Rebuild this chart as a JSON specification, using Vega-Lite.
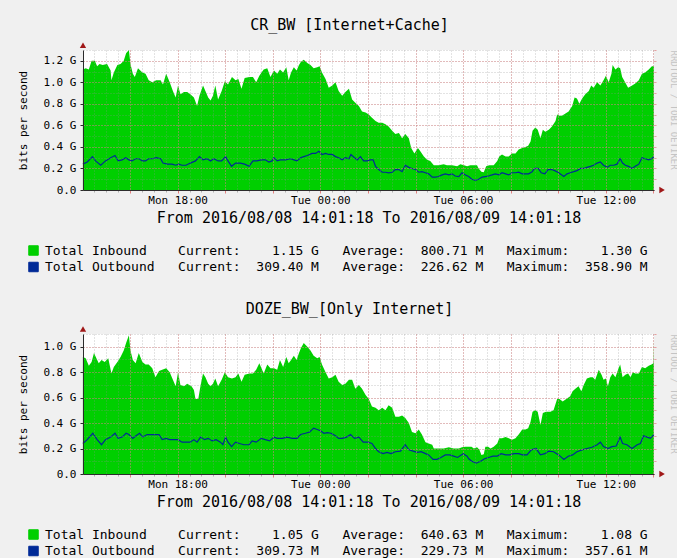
{
  "$schema": "https://vega.github.io/schema/vega-lite/v6.json",
  "background": "#f0f0f0",
  "padding": {"left": 17, "top": 18, "right": 0, "bottom": 0},
  "autosize": {"type": "pad"},
  "spacing": 28,
  "config": {
    "view": {"stroke": null, "fill": "#ffffff"},
    "font": "DejaVu Sans Mono",
    "title": {"font": "DejaVu Sans Mono", "fontSize": 15, "fontWeight": "normal", "color": "#000000", "frame": "group", "anchor": "middle", "dx": -19, "offset": 9}
  },
  "resolve": {"scale": {"x": "independent", "y": "independent", "color": "independent"}, "legend": {"color": "independent"}},
  "datasets": {
    "cr_in": [
      {"t":"2016-08-08T14:01Z","v":1.12},{"t":"2016-08-08T14:08Z","v":1.13},{"t":"2016-08-08T14:16Z","v":1.12},{"t":"2016-08-08T14:23Z","v":1.20},{"t":"2016-08-08T14:31Z","v":1.20},{"t":"2016-08-08T14:37Z","v":1.15},{"t":"2016-08-08T14:43Z","v":1.17},{"t":"2016-08-08T14:51Z","v":1.16},{"t":"2016-08-08T15:02Z","v":1.17},{"t":"2016-08-08T15:11Z","v":1.11},{"t":"2016-08-08T15:13Z","v":1.02},{"t":"2016-08-08T15:19Z","v":1.09},{"t":"2016-08-08T15:28Z","v":1.16},{"t":"2016-08-08T15:36Z","v":1.17},{"t":"2016-08-08T15:44Z","v":1.20},{"t":"2016-08-08T15:50Z","v":1.27},{"t":"2016-08-08T15:57Z","v":1.30},{"t":"2016-08-08T16:01Z","v":1.17},{"t":"2016-08-08T16:07Z","v":1.08},{"t":"2016-08-08T16:12Z","v":1.05},{"t":"2016-08-08T16:20Z","v":1.13},{"t":"2016-08-08T16:31Z","v":1.09},{"t":"2016-08-08T16:39Z","v":1.08},{"t":"2016-08-08T16:47Z","v":1.02},{"t":"2016-08-08T16:56Z","v":1.00},{"t":"2016-08-08T17:06Z","v":1.02},{"t":"2016-08-08T17:17Z","v":1.02},{"t":"2016-08-08T17:23Z","v":0.98},{"t":"2016-08-08T17:31Z","v":1.08},{"t":"2016-08-08T17:40Z","v":1.00},{"t":"2016-08-08T17:48Z","v":0.92},{"t":"2016-08-08T17:55Z","v":0.86},{"t":"2016-08-08T18:01Z","v":0.97},{"t":"2016-08-08T18:07Z","v":0.89},{"t":"2016-08-08T18:16Z","v":0.91},{"t":"2016-08-08T18:24Z","v":0.91},{"t":"2016-08-08T18:32Z","v":0.89},{"t":"2016-08-08T18:41Z","v":0.86},{"t":"2016-08-08T18:49Z","v":0.78},{"t":"2016-08-08T18:55Z","v":0.875},{"t":"2016-08-08T19:04Z","v":0.97},{"t":"2016-08-08T19:10Z","v":0.92},{"t":"2016-08-08T19:17Z","v":0.86},{"t":"2016-08-08T19:23Z","v":0.83},{"t":"2016-08-08T19:29Z","v":0.875},{"t":"2016-08-08T19:35Z","v":0.97},{"t":"2016-08-08T19:42Z","v":0.84},{"t":"2016-08-08T19:51Z","v":0.92},{"t":"2016-08-08T19:59Z","v":1.01},{"t":"2016-08-08T20:07Z","v":0.98},{"t":"2016-08-08T20:17Z","v":1.05},{"t":"2016-08-08T20:26Z","v":1.02},{"t":"2016-08-08T20:33Z","v":1.03},{"t":"2016-08-08T20:41Z","v":0.94},{"t":"2016-08-08T20:49Z","v":1.04},{"t":"2016-08-08T21:01Z","v":1.05},{"t":"2016-08-08T21:10Z","v":1.05},{"t":"2016-08-08T21:18Z","v":1.00},{"t":"2016-08-08T21:26Z","v":1.06},{"t":"2016-08-08T21:37Z","v":1.12},{"t":"2016-08-08T21:46Z","v":1.13},{"t":"2016-08-08T21:54Z","v":1.05},{"t":"2016-08-08T22:03Z","v":1.11},{"t":"2016-08-08T22:11Z","v":1.08},{"t":"2016-08-08T22:18Z","v":1.12},{"t":"2016-08-08T22:26Z","v":1.09},{"t":"2016-08-08T22:34Z","v":1.14},{"t":"2016-08-08T22:40Z","v":1.02},{"t":"2016-08-08T22:46Z","v":1.09},{"t":"2016-08-08T22:53Z","v":1.14},{"t":"2016-08-08T23:00Z","v":1.11},{"t":"2016-08-08T23:06Z","v":1.16},{"t":"2016-08-08T23:11Z","v":1.19},{"t":"2016-08-08T23:18Z","v":1.21},{"t":"2016-08-08T23:27Z","v":1.18},{"t":"2016-08-08T23:35Z","v":1.16},{"t":"2016-08-08T23:43Z","v":1.13},{"t":"2016-08-08T23:52Z","v":1.14},{"t":"2016-08-08T23:58Z","v":1.15},
      {"t":"2016-08-09T00:04Z","v":1.09},{"t":"2016-08-09T00:13Z","v":1.03},{"t":"2016-08-09T00:21Z","v":0.95},{"t":"2016-08-09T00:30Z","v":0.97},{"t":"2016-08-09T00:38Z","v":1.00},{"t":"2016-08-09T00:46Z","v":0.92},{"t":"2016-08-09T00:55Z","v":0.875},{"t":"2016-08-09T01:03Z","v":0.91},{"t":"2016-08-09T01:12Z","v":0.94},{"t":"2016-08-09T01:20Z","v":0.84},{"t":"2016-08-09T01:28Z","v":0.81},{"t":"2016-08-09T01:37Z","v":0.78},{"t":"2016-08-09T01:45Z","v":0.73},{"t":"2016-08-09T01:54Z","v":0.72},{"t":"2016-08-09T02:02Z","v":0.70},{"t":"2016-08-09T02:10Z","v":0.67},{"t":"2016-08-09T02:19Z","v":0.64},{"t":"2016-08-09T02:27Z","v":0.625},{"t":"2016-08-09T02:36Z","v":0.625},{"t":"2016-08-09T02:44Z","v":0.61},{"t":"2016-08-09T02:52Z","v":0.59},{"t":"2016-08-09T03:01Z","v":0.55},{"t":"2016-08-09T03:09Z","v":0.52},{"t":"2016-08-09T03:18Z","v":0.53},{"t":"2016-08-09T03:26Z","v":0.48},{"t":"2016-08-09T03:34Z","v":0.52},{"t":"2016-08-09T03:43Z","v":0.48},{"t":"2016-08-09T03:49Z","v":0.39},{"t":"2016-08-09T03:57Z","v":0.34},{"t":"2016-08-09T04:06Z","v":0.39},{"t":"2016-08-09T04:12Z","v":0.36},{"t":"2016-08-09T04:21Z","v":0.31},{"t":"2016-08-09T04:29Z","v":0.28},{"t":"2016-08-09T04:37Z","v":0.27},{"t":"2016-08-09T04:46Z","v":0.23},{"t":"2016-08-09T04:58Z","v":0.23},{"t":"2016-08-09T05:11Z","v":0.24},{"t":"2016-08-09T05:19Z","v":0.23},{"t":"2016-08-09T05:32Z","v":0.23},{"t":"2016-08-09T05:45Z","v":0.22},{"t":"2016-08-09T05:53Z","v":0.24},{"t":"2016-08-09T06:02Z","v":0.23},{"t":"2016-08-09T06:10Z","v":0.22},{"t":"2016-08-09T06:18Z","v":0.23},{"t":"2016-08-09T06:27Z","v":0.23},{"t":"2016-08-09T06:35Z","v":0.23},{"t":"2016-08-09T06:39Z","v":0.20},{"t":"2016-08-09T06:46Z","v":0.17},{"t":"2016-08-09T06:52Z","v":0.165},{"t":"2016-08-09T06:58Z","v":0.22},{"t":"2016-08-09T07:06Z","v":0.23},{"t":"2016-08-09T07:17Z","v":0.23},{"t":"2016-08-09T07:26Z","v":0.27},{"t":"2016-08-09T07:31Z","v":0.31},{"t":"2016-08-09T07:38Z","v":0.33},{"t":"2016-08-09T07:47Z","v":0.31},{"t":"2016-08-09T07:55Z","v":0.31},{"t":"2016-08-09T08:03Z","v":0.34},{"t":"2016-08-09T08:12Z","v":0.34},{"t":"2016-08-09T08:20Z","v":0.375},{"t":"2016-08-09T08:29Z","v":0.39},{"t":"2016-08-09T08:37Z","v":0.40},{"t":"2016-08-09T08:44Z","v":0.41},{"t":"2016-08-09T08:50Z","v":0.45},{"t":"2016-08-09T08:55Z","v":0.55},{"t":"2016-08-09T09:02Z","v":0.58},{"t":"2016-08-09T09:08Z","v":0.56},{"t":"2016-08-09T09:15Z","v":0.48},{"t":"2016-08-09T09:21Z","v":0.56},{"t":"2016-08-09T09:27Z","v":0.54},{"t":"2016-08-09T09:36Z","v":0.56},{"t":"2016-08-09T09:44Z","v":0.59},{"t":"2016-08-09T09:53Z","v":0.64},{"t":"2016-08-09T09:57Z","v":0.70},{"t":"2016-08-09T10:03Z","v":0.69},{"t":"2016-08-09T10:09Z","v":0.69},{"t":"2016-08-09T10:18Z","v":0.71},{"t":"2016-08-09T10:26Z","v":0.73},{"t":"2016-08-09T10:35Z","v":0.78},{"t":"2016-08-09T10:41Z","v":0.86},{"t":"2016-08-09T10:47Z","v":0.85},{"t":"2016-08-09T10:53Z","v":0.80},{"t":"2016-08-09T11:00Z","v":0.85},{"t":"2016-08-09T11:08Z","v":0.89},{"t":"2016-08-09T11:17Z","v":0.92},{"t":"2016-08-09T11:23Z","v":0.97},{"t":"2016-08-09T11:29Z","v":0.95},{"t":"2016-08-09T11:38Z","v":1.00},{"t":"2016-08-09T11:46Z","v":0.97},{"t":"2016-08-09T11:54Z","v":1.02},{"t":"2016-08-09T12:00Z","v":1.06},{"t":"2016-08-09T12:07Z","v":1.00},{"t":"2016-08-09T12:14Z","v":1.08},{"t":"2016-08-09T12:17Z","v":1.16},{"t":"2016-08-09T12:24Z","v":1.12},{"t":"2016-08-09T12:31Z","v":1.14},{"t":"2016-08-09T12:36Z","v":1.13},{"t":"2016-08-09T12:41Z","v":1.05},{"t":"2016-08-09T12:47Z","v":1.01},{"t":"2016-08-09T12:56Z","v":0.95},{"t":"2016-08-09T13:06Z","v":0.97},{"t":"2016-08-09T13:14Z","v":0.99},{"t":"2016-08-09T13:23Z","v":1.02},{"t":"2016-08-09T13:31Z","v":1.08},{"t":"2016-08-09T13:39Z","v":1.09},{"t":"2016-08-09T13:48Z","v":1.12},{"t":"2016-08-09T13:56Z","v":1.15},{"t":"2016-08-09T14:01Z","v":1.15}
    ],
    "cr_out": [
      {"t":"2016-08-08T14:01Z","v":0.24},{"t":"2016-08-08T14:12Z","v":0.26},{"t":"2016-08-08T14:25Z","v":0.31},{"t":"2016-08-08T14:33Z","v":0.27},{"t":"2016-08-08T14:46Z","v":0.23},{"t":"2016-08-08T14:58Z","v":0.27},{"t":"2016-08-08T15:11Z","v":0.30},{"t":"2016-08-08T15:22Z","v":0.32},{"t":"2016-08-08T15:30Z","v":0.27},{"t":"2016-08-08T15:40Z","v":0.28},{"t":"2016-08-08T15:49Z","v":0.30},{"t":"2016-08-08T15:57Z","v":0.28},{"t":"2016-08-08T16:05Z","v":0.27},{"t":"2016-08-08T16:14Z","v":0.29},{"t":"2016-08-08T16:22Z","v":0.29},{"t":"2016-08-08T16:31Z","v":0.27},{"t":"2016-08-08T16:39Z","v":0.27},{"t":"2016-08-08T16:47Z","v":0.29},{"t":"2016-08-08T16:57Z","v":0.29},{"t":"2016-08-08T17:06Z","v":0.30},{"t":"2016-08-08T17:17Z","v":0.29},{"t":"2016-08-08T17:23Z","v":0.25},{"t":"2016-08-08T17:34Z","v":0.24},{"t":"2016-08-08T17:46Z","v":0.24},{"t":"2016-08-08T17:55Z","v":0.23},{"t":"2016-08-08T18:03Z","v":0.24},{"t":"2016-08-08T18:11Z","v":0.23},{"t":"2016-08-08T18:21Z","v":0.23},{"t":"2016-08-08T18:32Z","v":0.25},{"t":"2016-08-08T18:45Z","v":0.27},{"t":"2016-08-08T18:55Z","v":0.31},{"t":"2016-08-08T19:04Z","v":0.28},{"t":"2016-08-08T19:14Z","v":0.29},{"t":"2016-08-08T19:23Z","v":0.27},{"t":"2016-08-08T19:31Z","v":0.29},{"t":"2016-08-08T19:42Z","v":0.27},{"t":"2016-08-08T19:51Z","v":0.27},{"t":"2016-08-08T20:01Z","v":0.31},{"t":"2016-08-08T20:07Z","v":0.27},{"t":"2016-08-08T20:16Z","v":0.22},{"t":"2016-08-08T20:26Z","v":0.25},{"t":"2016-08-08T20:38Z","v":0.25},{"t":"2016-08-08T20:49Z","v":0.24},{"t":"2016-08-08T21:00Z","v":0.22},{"t":"2016-08-08T21:10Z","v":0.27},{"t":"2016-08-08T21:20Z","v":0.27},{"t":"2016-08-08T21:31Z","v":0.28},{"t":"2016-08-08T21:41Z","v":0.28},{"t":"2016-08-08T21:50Z","v":0.26},{"t":"2016-08-08T21:58Z","v":0.27},{"t":"2016-08-08T22:03Z","v":0.30},{"t":"2016-08-08T22:11Z","v":0.27},{"t":"2016-08-08T22:19Z","v":0.28},{"t":"2016-08-08T22:32Z","v":0.28},{"t":"2016-08-08T22:45Z","v":0.29},{"t":"2016-08-08T22:53Z","v":0.28},{"t":"2016-08-08T23:01Z","v":0.27},{"t":"2016-08-08T23:10Z","v":0.30},{"t":"2016-08-08T23:18Z","v":0.31},{"t":"2016-08-08T23:27Z","v":0.32},{"t":"2016-08-08T23:39Z","v":0.34},{"t":"2016-08-08T23:48Z","v":0.34},{"t":"2016-08-08T23:56Z","v":0.36},
      {"t":"2016-08-09T00:04Z","v":0.33},{"t":"2016-08-09T00:13Z","v":0.34},{"t":"2016-08-09T00:21Z","v":0.33},{"t":"2016-08-09T00:30Z","v":0.33},{"t":"2016-08-09T00:38Z","v":0.31},{"t":"2016-08-09T00:46Z","v":0.30},{"t":"2016-08-09T00:55Z","v":0.28},{"t":"2016-08-09T01:03Z","v":0.30},{"t":"2016-08-09T01:12Z","v":0.29},{"t":"2016-08-09T01:17Z","v":0.33},{"t":"2016-08-09T01:26Z","v":0.30},{"t":"2016-08-09T01:33Z","v":0.28},{"t":"2016-08-09T01:41Z","v":0.31},{"t":"2016-08-09T01:49Z","v":0.27},{"t":"2016-08-09T01:58Z","v":0.27},{"t":"2016-08-09T02:06Z","v":0.28},{"t":"2016-08-09T02:13Z","v":0.28},{"t":"2016-08-09T02:19Z","v":0.22},{"t":"2016-08-09T02:27Z","v":0.19},{"t":"2016-08-09T02:36Z","v":0.165},{"t":"2016-08-09T02:44Z","v":0.165},{"t":"2016-08-09T02:52Z","v":0.16},{"t":"2016-08-09T03:01Z","v":0.165},{"t":"2016-08-09T03:09Z","v":0.19},{"t":"2016-08-09T03:18Z","v":0.19},{"t":"2016-08-09T03:26Z","v":0.17},{"t":"2016-08-09T03:34Z","v":0.23},{"t":"2016-08-09T03:43Z","v":0.21},{"t":"2016-08-09T03:51Z","v":0.20},{"t":"2016-08-09T04:00Z","v":0.19},{"t":"2016-08-09T04:08Z","v":0.165},{"t":"2016-08-09T04:16Z","v":0.17},{"t":"2016-08-09T04:25Z","v":0.16},{"t":"2016-08-09T04:33Z","v":0.15},{"t":"2016-08-09T04:42Z","v":0.12},{"t":"2016-08-09T04:50Z","v":0.12},{"t":"2016-08-09T04:58Z","v":0.125},{"t":"2016-08-09T05:07Z","v":0.14},{"t":"2016-08-09T05:15Z","v":0.15},{"t":"2016-08-09T05:24Z","v":0.14},{"t":"2016-08-09T05:32Z","v":0.15},{"t":"2016-08-09T05:40Z","v":0.13},{"t":"2016-08-09T05:49Z","v":0.125},{"t":"2016-08-09T05:57Z","v":0.16},{"t":"2016-08-09T06:06Z","v":0.14},{"t":"2016-08-09T06:14Z","v":0.125},{"t":"2016-08-09T06:22Z","v":0.10},{"t":"2016-08-09T06:31Z","v":0.09},{"t":"2016-08-09T06:39Z","v":0.10},{"t":"2016-08-09T06:48Z","v":0.12},{"t":"2016-08-09T06:56Z","v":0.125},{"t":"2016-08-09T07:04Z","v":0.13},{"t":"2016-08-09T07:13Z","v":0.14},{"t":"2016-08-09T07:21Z","v":0.15},{"t":"2016-08-09T07:30Z","v":0.14},{"t":"2016-08-09T07:38Z","v":0.16},{"t":"2016-08-09T07:47Z","v":0.15},{"t":"2016-08-09T07:55Z","v":0.14},{"t":"2016-08-09T08:03Z","v":0.16},{"t":"2016-08-09T08:12Z","v":0.16},{"t":"2016-08-09T08:20Z","v":0.165},{"t":"2016-08-09T08:29Z","v":0.15},{"t":"2016-08-09T08:37Z","v":0.15},{"t":"2016-08-09T08:45Z","v":0.15},{"t":"2016-08-09T08:54Z","v":0.17},{"t":"2016-08-09T09:00Z","v":0.20},{"t":"2016-08-09T09:09Z","v":0.20},{"t":"2016-08-09T09:17Z","v":0.16},{"t":"2016-08-09T09:26Z","v":0.15},{"t":"2016-08-09T09:34Z","v":0.19},{"t":"2016-08-09T09:43Z","v":0.19},{"t":"2016-08-09T09:51Z","v":0.18},{"t":"2016-08-09T10:01Z","v":0.16},{"t":"2016-08-09T10:14Z","v":0.125},{"t":"2016-08-09T10:22Z","v":0.15},{"t":"2016-08-09T10:30Z","v":0.16},{"t":"2016-08-09T10:39Z","v":0.17},{"t":"2016-08-09T10:47Z","v":0.18},{"t":"2016-08-09T10:56Z","v":0.20},{"t":"2016-08-09T11:04Z","v":0.20},{"t":"2016-08-09T11:12Z","v":0.21},{"t":"2016-08-09T11:21Z","v":0.22},{"t":"2016-08-09T11:29Z","v":0.23},{"t":"2016-08-09T11:38Z","v":0.25},{"t":"2016-08-09T11:46Z","v":0.26},{"t":"2016-08-09T11:54Z","v":0.23},{"t":"2016-08-09T12:03Z","v":0.21},{"t":"2016-08-09T12:11Z","v":0.23},{"t":"2016-08-09T12:20Z","v":0.23},{"t":"2016-08-09T12:28Z","v":0.24},{"t":"2016-08-09T12:36Z","v":0.29},{"t":"2016-08-09T12:42Z","v":0.25},{"t":"2016-08-09T12:49Z","v":0.23},{"t":"2016-08-09T12:57Z","v":0.22},{"t":"2016-08-09T13:06Z","v":0.20},{"t":"2016-08-09T13:14Z","v":0.22},{"t":"2016-08-09T13:23Z","v":0.24},{"t":"2016-08-09T13:31Z","v":0.30},{"t":"2016-08-09T13:39Z","v":0.29},{"t":"2016-08-09T13:48Z","v":0.28},{"t":"2016-08-09T13:55Z","v":0.29},{"t":"2016-08-09T14:01Z","v":0.31}
    ],
    "doze_in": [
      {"t":"2016-08-08T14:01Z","v":0.92},{"t":"2016-08-08T14:08Z","v":0.91},{"t":"2016-08-08T14:16Z","v":0.85},{"t":"2016-08-08T14:23Z","v":0.88},{"t":"2016-08-08T14:29Z","v":0.95},{"t":"2016-08-08T14:35Z","v":0.91},{"t":"2016-08-08T14:41Z","v":0.87},{"t":"2016-08-08T14:48Z","v":0.895},{"t":"2016-08-08T14:56Z","v":0.88},{"t":"2016-08-08T15:05Z","v":0.91},{"t":"2016-08-08T15:13Z","v":0.79},{"t":"2016-08-08T15:19Z","v":0.84},{"t":"2016-08-08T15:28Z","v":0.88},{"t":"2016-08-08T15:36Z","v":0.92},{"t":"2016-08-08T15:44Z","v":0.97},{"t":"2016-08-08T15:50Z","v":1.03},{"t":"2016-08-08T15:57Z","v":1.09},{"t":"2016-08-08T16:01Z","v":0.97},{"t":"2016-08-08T16:07Z","v":0.895},{"t":"2016-08-08T16:14Z","v":0.87},{"t":"2016-08-08T16:22Z","v":0.95},{"t":"2016-08-08T16:31Z","v":0.88},{"t":"2016-08-08T16:39Z","v":0.86},{"t":"2016-08-08T16:47Z","v":0.86},{"t":"2016-08-08T16:56Z","v":0.83},{"t":"2016-08-08T17:04Z","v":0.76},{"t":"2016-08-08T17:13Z","v":0.81},{"t":"2016-08-08T17:21Z","v":0.82},{"t":"2016-08-08T17:31Z","v":0.83},{"t":"2016-08-08T17:40Z","v":0.80},{"t":"2016-08-08T17:48Z","v":0.74},{"t":"2016-08-08T17:55Z","v":0.69},{"t":"2016-08-08T18:01Z","v":0.80},{"t":"2016-08-08T18:07Z","v":0.70},{"t":"2016-08-08T18:16Z","v":0.69},{"t":"2016-08-08T18:24Z","v":0.71},{"t":"2016-08-08T18:35Z","v":0.69},{"t":"2016-08-08T18:41Z","v":0.66},{"t":"2016-08-08T18:45Z","v":0.59},{"t":"2016-08-08T18:52Z","v":0.59},{"t":"2016-08-08T18:58Z","v":0.70},{"t":"2016-08-08T19:04Z","v":0.79},{"t":"2016-08-08T19:10Z","v":0.76},{"t":"2016-08-08T19:17Z","v":0.71},{"t":"2016-08-08T19:23Z","v":0.69},{"t":"2016-08-08T19:29Z","v":0.71},{"t":"2016-08-08T19:35Z","v":0.75},{"t":"2016-08-08T19:42Z","v":0.69},{"t":"2016-08-08T19:51Z","v":0.74},{"t":"2016-08-08T19:59Z","v":0.80},{"t":"2016-08-08T20:07Z","v":0.76},{"t":"2016-08-08T20:17Z","v":0.75},{"t":"2016-08-08T20:26Z","v":0.76},{"t":"2016-08-08T20:33Z","v":0.79},{"t":"2016-08-08T20:41Z","v":0.725},{"t":"2016-08-08T20:49Z","v":0.78},{"t":"2016-08-08T21:01Z","v":0.79},{"t":"2016-08-08T21:10Z","v":0.79},{"t":"2016-08-08T21:18Z","v":0.82},{"t":"2016-08-08T21:26Z","v":0.87},{"t":"2016-08-08T21:37Z","v":0.79},{"t":"2016-08-08T21:46Z","v":0.86},{"t":"2016-08-08T21:54Z","v":0.83},{"t":"2016-08-08T22:03Z","v":0.83},{"t":"2016-08-08T22:11Z","v":0.82},{"t":"2016-08-08T22:18Z","v":0.895},{"t":"2016-08-08T22:26Z","v":0.84},{"t":"2016-08-08T22:34Z","v":0.92},{"t":"2016-08-08T22:40Z","v":0.87},{"t":"2016-08-08T22:46Z","v":0.895},{"t":"2016-08-08T22:53Z","v":0.93},{"t":"2016-08-08T23:00Z","v":0.895},{"t":"2016-08-08T23:06Z","v":0.95},{"t":"2016-08-08T23:11Z","v":0.99},{"t":"2016-08-08T23:18Z","v":1.03},{"t":"2016-08-08T23:27Z","v":1.00},{"t":"2016-08-08T23:35Z","v":0.97},{"t":"2016-08-08T23:43Z","v":0.93},{"t":"2016-08-08T23:52Z","v":0.91},{"t":"2016-08-08T23:58Z","v":0.92},
      {"t":"2016-08-09T00:04Z","v":0.86},{"t":"2016-08-09T00:13Z","v":0.80},{"t":"2016-08-09T00:21Z","v":0.75},{"t":"2016-08-09T00:30Z","v":0.76},{"t":"2016-08-09T00:38Z","v":0.78},{"t":"2016-08-09T00:46Z","v":0.725},{"t":"2016-08-09T00:55Z","v":0.70},{"t":"2016-08-09T01:03Z","v":0.71},{"t":"2016-08-09T01:12Z","v":0.74},{"t":"2016-08-09T01:20Z","v":0.74},{"t":"2016-08-09T01:28Z","v":0.67},{"t":"2016-08-09T01:37Z","v":0.70},{"t":"2016-08-09T01:45Z","v":0.67},{"t":"2016-08-09T01:54Z","v":0.62},{"t":"2016-08-09T02:02Z","v":0.59},{"t":"2016-08-09T02:10Z","v":0.53},{"t":"2016-08-09T02:19Z","v":0.52},{"t":"2016-08-09T02:27Z","v":0.50},{"t":"2016-08-09T02:36Z","v":0.52},{"t":"2016-08-09T02:44Z","v":0.50},{"t":"2016-08-09T02:52Z","v":0.54},{"t":"2016-08-09T03:01Z","v":0.52},{"t":"2016-08-09T03:09Z","v":0.45},{"t":"2016-08-09T03:18Z","v":0.45},{"t":"2016-08-09T03:26Z","v":0.46},{"t":"2016-08-09T03:34Z","v":0.44},{"t":"2016-08-09T03:43Z","v":0.40},{"t":"2016-08-09T03:51Z","v":0.33},{"t":"2016-08-09T04:00Z","v":0.32},{"t":"2016-08-09T04:08Z","v":0.35},{"t":"2016-08-09T04:16Z","v":0.31},{"t":"2016-08-09T04:25Z","v":0.25},{"t":"2016-08-09T04:33Z","v":0.24},{"t":"2016-08-09T04:42Z","v":0.23},{"t":"2016-08-09T04:46Z","v":0.20},{"t":"2016-08-09T04:58Z","v":0.20},{"t":"2016-08-09T05:11Z","v":0.20},{"t":"2016-08-09T05:24Z","v":0.21},{"t":"2016-08-09T05:36Z","v":0.20},{"t":"2016-08-09T05:49Z","v":0.20},{"t":"2016-08-09T05:57Z","v":0.21},{"t":"2016-08-09T06:06Z","v":0.215},{"t":"2016-08-09T06:14Z","v":0.215},{"t":"2016-08-09T06:21Z","v":0.215},{"t":"2016-08-09T06:27Z","v":0.20},{"t":"2016-08-09T06:35Z","v":0.21},{"t":"2016-08-09T06:41Z","v":0.19},{"t":"2016-08-09T06:46Z","v":0.15},{"t":"2016-08-09T06:52Z","v":0.155},{"t":"2016-08-09T06:56Z","v":0.215},{"t":"2016-08-09T07:03Z","v":0.215},{"t":"2016-08-09T07:09Z","v":0.20},{"t":"2016-08-09T07:17Z","v":0.215},{"t":"2016-08-09T07:26Z","v":0.24},{"t":"2016-08-09T07:31Z","v":0.28},{"t":"2016-08-09T07:38Z","v":0.28},{"t":"2016-08-09T07:47Z","v":0.29},{"t":"2016-08-09T07:55Z","v":0.28},{"t":"2016-08-09T08:03Z","v":0.27},{"t":"2016-08-09T08:12Z","v":0.28},{"t":"2016-08-09T08:20Z","v":0.31},{"t":"2016-08-09T08:29Z","v":0.35},{"t":"2016-08-09T08:37Z","v":0.35},{"t":"2016-08-09T08:44Z","v":0.36},{"t":"2016-08-09T08:50Z","v":0.41},{"t":"2016-08-09T08:55Z","v":0.49},{"t":"2016-08-09T09:02Z","v":0.50},{"t":"2016-08-09T09:08Z","v":0.49},{"t":"2016-08-09T09:15Z","v":0.385},{"t":"2016-08-09T09:21Z","v":0.48},{"t":"2016-08-09T09:29Z","v":0.49},{"t":"2016-08-09T09:40Z","v":0.49},{"t":"2016-08-09T09:48Z","v":0.50},{"t":"2016-08-09T09:57Z","v":0.59},{"t":"2016-08-09T10:03Z","v":0.59},{"t":"2016-08-09T10:11Z","v":0.57},{"t":"2016-08-09T10:20Z","v":0.59},{"t":"2016-08-09T10:30Z","v":0.61},{"t":"2016-08-09T10:36Z","v":0.65},{"t":"2016-08-09T10:43Z","v":0.67},{"t":"2016-08-09T10:51Z","v":0.69},{"t":"2016-08-09T10:58Z","v":0.65},{"t":"2016-08-09T11:04Z","v":0.70},{"t":"2016-08-09T11:12Z","v":0.75},{"t":"2016-08-09T11:21Z","v":0.76},{"t":"2016-08-09T11:27Z","v":0.76},{"t":"2016-08-09T11:33Z","v":0.74},{"t":"2016-08-09T11:42Z","v":0.82},{"t":"2016-08-09T11:49Z","v":0.78},{"t":"2016-08-09T11:54Z","v":0.74},{"t":"2016-08-09T12:00Z","v":0.75},{"t":"2016-08-09T12:05Z","v":0.69},{"t":"2016-08-09T12:11Z","v":0.76},{"t":"2016-08-09T12:17Z","v":0.79},{"t":"2016-08-09T12:24Z","v":0.76},{"t":"2016-08-09T12:32Z","v":0.83},{"t":"2016-08-09T12:36Z","v":0.86},{"t":"2016-08-09T12:42Z","v":0.76},{"t":"2016-08-09T12:49Z","v":0.78},{"t":"2016-08-09T12:56Z","v":0.79},{"t":"2016-08-09T13:02Z","v":0.76},{"t":"2016-08-09T13:08Z","v":0.80},{"t":"2016-08-09T13:14Z","v":0.79},{"t":"2016-08-09T13:23Z","v":0.79},{"t":"2016-08-09T13:31Z","v":0.84},{"t":"2016-08-09T13:39Z","v":0.83},{"t":"2016-08-09T13:48Z","v":0.85},{"t":"2016-08-09T13:55Z","v":0.86},{"t":"2016-08-09T14:00Z","v":0.87},{"t":"2016-08-09T14:01Z","v":1.05}
    ],
    "doze_out": [
      {"t":"2016-08-08T14:01Z","v":0.24},{"t":"2016-08-08T14:12Z","v":0.27},{"t":"2016-08-08T14:26Z","v":0.32},{"t":"2016-08-08T14:37Z","v":0.27},{"t":"2016-08-08T14:48Z","v":0.23},{"t":"2016-08-08T14:58Z","v":0.27},{"t":"2016-08-08T15:11Z","v":0.29},{"t":"2016-08-08T15:22Z","v":0.32},{"t":"2016-08-08T15:30Z","v":0.28},{"t":"2016-08-08T15:40Z","v":0.29},{"t":"2016-08-08T15:50Z","v":0.32},{"t":"2016-08-08T15:57Z","v":0.31},{"t":"2016-08-08T16:07Z","v":0.28},{"t":"2016-08-08T16:15Z","v":0.30},{"t":"2016-08-08T16:24Z","v":0.32},{"t":"2016-08-08T16:32Z","v":0.29},{"t":"2016-08-08T16:43Z","v":0.31},{"t":"2016-08-08T16:52Z","v":0.31},{"t":"2016-08-08T17:02Z","v":0.31},{"t":"2016-08-08T17:13Z","v":0.31},{"t":"2016-08-08T17:21Z","v":0.27},{"t":"2016-08-08T17:31Z","v":0.28},{"t":"2016-08-08T17:40Z","v":0.27},{"t":"2016-08-08T17:50Z","v":0.27},{"t":"2016-08-08T18:01Z","v":0.27},{"t":"2016-08-08T18:11Z","v":0.25},{"t":"2016-08-08T18:21Z","v":0.25},{"t":"2016-08-08T18:32Z","v":0.25},{"t":"2016-08-08T18:41Z","v":0.27},{"t":"2016-08-08T18:49Z","v":0.25},{"t":"2016-08-08T18:58Z","v":0.29},{"t":"2016-08-08T19:08Z","v":0.27},{"t":"2016-08-08T19:17Z","v":0.28},{"t":"2016-08-08T19:27Z","v":0.26},{"t":"2016-08-08T19:37Z","v":0.27},{"t":"2016-08-08T19:48Z","v":0.25},{"t":"2016-08-08T19:54Z","v":0.23},{"t":"2016-08-08T20:01Z","v":0.29},{"t":"2016-08-08T20:07Z","v":0.25},{"t":"2016-08-08T20:16Z","v":0.215},{"t":"2016-08-08T20:26Z","v":0.25},{"t":"2016-08-08T20:36Z","v":0.24},{"t":"2016-08-08T20:47Z","v":0.23},{"t":"2016-08-08T21:00Z","v":0.23},{"t":"2016-08-08T21:08Z","v":0.26},{"t":"2016-08-08T21:18Z","v":0.25},{"t":"2016-08-08T21:31Z","v":0.28},{"t":"2016-08-08T21:41Z","v":0.27},{"t":"2016-08-08T21:52Z","v":0.26},{"t":"2016-08-08T22:03Z","v":0.29},{"t":"2016-08-08T22:11Z","v":0.28},{"t":"2016-08-08T22:24Z","v":0.28},{"t":"2016-08-08T22:36Z","v":0.29},{"t":"2016-08-08T22:49Z","v":0.28},{"t":"2016-08-08T23:01Z","v":0.28},{"t":"2016-08-08T23:10Z","v":0.31},{"t":"2016-08-08T23:22Z","v":0.32},{"t":"2016-08-08T23:33Z","v":0.33},{"t":"2016-08-08T23:43Z","v":0.36},{"t":"2016-08-08T23:52Z","v":0.35},
      {"t":"2016-08-09T00:00Z","v":0.34},{"t":"2016-08-09T00:09Z","v":0.32},{"t":"2016-08-09T00:17Z","v":0.325},{"t":"2016-08-09T00:27Z","v":0.32},{"t":"2016-08-09T00:38Z","v":0.30},{"t":"2016-08-09T00:46Z","v":0.28},{"t":"2016-08-09T00:55Z","v":0.28},{"t":"2016-08-09T01:06Z","v":0.29},{"t":"2016-08-09T01:16Z","v":0.31},{"t":"2016-08-09T01:26Z","v":0.28},{"t":"2016-08-09T01:37Z","v":0.29},{"t":"2016-08-09T01:48Z","v":0.25},{"t":"2016-08-09T02:00Z","v":0.25},{"t":"2016-08-09T02:10Z","v":0.24},{"t":"2016-08-09T02:19Z","v":0.20},{"t":"2016-08-09T02:27Z","v":0.175},{"t":"2016-08-09T02:38Z","v":0.16},{"t":"2016-08-09T02:48Z","v":0.17},{"t":"2016-08-09T02:58Z","v":0.16},{"t":"2016-08-09T03:09Z","v":0.175},{"t":"2016-08-09T03:22Z","v":0.18},{"t":"2016-08-09T03:34Z","v":0.23},{"t":"2016-08-09T03:43Z","v":0.19},{"t":"2016-08-09T03:54Z","v":0.18},{"t":"2016-08-09T04:04Z","v":0.17},{"t":"2016-08-09T04:14Z","v":0.175},{"t":"2016-08-09T04:25Z","v":0.16},{"t":"2016-08-09T04:33Z","v":0.15},{"t":"2016-08-09T04:44Z","v":0.115},{"t":"2016-08-09T04:54Z","v":0.115},{"t":"2016-08-09T05:04Z","v":0.13},{"t":"2016-08-09T05:15Z","v":0.15},{"t":"2016-08-09T05:26Z","v":0.15},{"t":"2016-08-09T05:36Z","v":0.14},{"t":"2016-08-09T05:46Z","v":0.13},{"t":"2016-08-09T06:00Z","v":0.16},{"t":"2016-08-09T06:10Z","v":0.14},{"t":"2016-08-09T06:14Z","v":0.12},{"t":"2016-08-09T06:22Z","v":0.10},{"t":"2016-08-09T06:33Z","v":0.085},{"t":"2016-08-09T06:44Z","v":0.10},{"t":"2016-08-09T06:54Z","v":0.12},{"t":"2016-08-09T07:04Z","v":0.13},{"t":"2016-08-09T07:15Z","v":0.14},{"t":"2016-08-09T07:26Z","v":0.14},{"t":"2016-08-09T07:36Z","v":0.16},{"t":"2016-08-09T07:47Z","v":0.15},{"t":"2016-08-09T07:57Z","v":0.15},{"t":"2016-08-09T08:08Z","v":0.16},{"t":"2016-08-09T08:20Z","v":0.16},{"t":"2016-08-09T08:30Z","v":0.15},{"t":"2016-08-09T08:41Z","v":0.15},{"t":"2016-08-09T08:52Z","v":0.19},{"t":"2016-08-09T09:04Z","v":0.20},{"t":"2016-08-09T09:15Z","v":0.15},{"t":"2016-08-09T09:26Z","v":0.16},{"t":"2016-08-09T09:36Z","v":0.18},{"t":"2016-08-09T09:48Z","v":0.175},{"t":"2016-08-09T10:01Z","v":0.15},{"t":"2016-08-09T10:14Z","v":0.115},{"t":"2016-08-09T10:25Z","v":0.14},{"t":"2016-08-09T10:36Z","v":0.15},{"t":"2016-08-09T10:47Z","v":0.175},{"t":"2016-08-09T11:00Z","v":0.19},{"t":"2016-08-09T11:12Z","v":0.20},{"t":"2016-08-09T11:25Z","v":0.21},{"t":"2016-08-09T11:38Z","v":0.23},{"t":"2016-08-09T11:46Z","v":0.25},{"t":"2016-08-09T11:54Z","v":0.215},{"t":"2016-08-09T12:05Z","v":0.20},{"t":"2016-08-09T12:15Z","v":0.215},{"t":"2016-08-09T12:26Z","v":0.22},{"t":"2016-08-09T12:36Z","v":0.29},{"t":"2016-08-09T12:42Z","v":0.24},{"t":"2016-08-09T12:53Z","v":0.23},{"t":"2016-08-09T13:06Z","v":0.20},{"t":"2016-08-09T13:19Z","v":0.23},{"t":"2016-08-09T13:27Z","v":0.24},{"t":"2016-08-09T13:35Z","v":0.30},{"t":"2016-08-09T13:44Z","v":0.29},{"t":"2016-08-09T13:52Z","v":0.28},{"t":"2016-08-09T14:01Z","v":0.31}
    ]
  },
  "vconcat": [
    {
      "width": 571,
      "height": 140,
      "title": {"text": "CR_BW [Internet+Cache]"},
      "resolve": {"axis": {"x": "independent", "y": "independent"}},
      "layer": [
        {
          "data": {"name": "cr_in"},
          "mark": {"type": "area", "opacity": 1},
          "encoding": {
            "x": {"field": "t", "type": "temporal",
              "scale": {"type": "utc", "domain": [1470664878000, 1470751278000]},
              "axis": {"orient": "bottom", "values": [1470666600000,1470668400000,1470670200000,1470672000000,1470673800000,1470675600000,1470677400000,1470679200000,1470681000000,1470682800000,1470684600000,1470686400000,1470688200000,1470690000000,1470691800000,1470693600000,1470695400000,1470697200000,1470699000000,1470700800000,1470702600000,1470704400000,1470706200000,1470708000000,1470709800000,1470711600000,1470713400000,1470715200000,1470717000000,1470718800000,1470720600000,1470722400000,1470724200000,1470726000000,1470727800000,1470729600000,1470731400000,1470733200000,1470735000000,1470736800000,1470738600000,1470740400000,1470742200000,1470744000000,1470745800000,1470747600000,1470749400000,1470751200000], "grid": true, "gridColor": "#8f8f8f", "gridOpacity": 0.5, "gridDash": [1, 2], "labels": false, "ticks": true, "tickColor": "#b0b0b0", "tickSize": 2, "domain": false, "title": null, "zindex": 1}},
            "y": {"field": "v", "type": "quantitative",
              "scale": {"domain": [0, 1.3], "nice": false, "zero": true},
              "axis": {"orient": "right", "values": [0.1, 0.2, 0.3, 0.4, 0.5, 0.6, 0.7, 0.8, 0.9, 1.0, 1.1, 1.2, 1.3], "grid": true, "gridColor": "#8f8f8f", "gridOpacity": 0.5, "gridDash": [1, 2], "labels": false, "ticks": true, "tickColor": "#e8a0a0", "tickSize": 2, "domain": false, "title": "RRDTOOL / TOBI OETIKER", "titleColor": "#c4c4c4", "titleFont": "DejaVu Sans Mono", "titleFontSize": 9, "titleFontWeight": "normal", "titleAngle": 90, "titleX": 19, "titleY": 0, "titleAlign": "left", "titleBaseline": "middle", "zindex": 1}},
            "color": {"datum": "Total Inbound",
              "scale": {"domain": ["Total Inbound", "Total Outbound"], "range": ["#00CF00", "#002A97"]},
              "legend": {"orient": "none", "legendX": -56, "legendY": 194, "direction": "vertical", "title": null, "symbolType": "square", "symbolSize": 90, "symbolStrokeColor": "#000000", "symbolStrokeWidth": 1, "symbolOpacity": 1, "labelFont": "DejaVu Sans Mono", "labelFontSize": 13, "labelColor": "#000000", "labelLimit": 0, "labelOffset": 5, "rowPadding": 1.5, "padding": 0,
                "labelExpr": "datum.label == 'Total Inbound' ? 'Total Inbound\u00a0\u00a0\u00a0\u00a0Current:\u00a0\u00a0\u00a0\u00a01.15 G\u00a0\u00a0\u00a0Average:\u00a0\u00a0800.71 M\u00a0\u00a0\u00a0Maximum:\u00a0\u00a0\u00a0\u00a01.30 G' : 'Total Outbound\u00a0\u00a0\u00a0Current:\u00a0\u00a0309.40 M\u00a0\u00a0\u00a0Average:\u00a0\u00a0226.62 M\u00a0\u00a0\u00a0Maximum:\u00a0\u00a0358.90 M'"}}
          }
        },
        {
          "data": {"name": "cr_out"},
          "mark": {"type": "line", "strokeWidth": 1.2},
          "encoding": {
            "x": {"field": "t", "type": "temporal",
              "axis": {"orient": "bottom", "values": [1470672000000,1470679200000,1470686400000,1470693600000,1470700800000,1470708000000,1470715200000,1470722400000,1470729600000,1470736800000,1470744000000,1470751200000], "grid": true, "gridColor": "#e28080", "gridOpacity": 0.8, "gridDash": [1, 2], "labelExpr": "utchours(datum.value) % 6 == 0 ? utcFormat(datum.value, '%a %H:%M') : ''", "labelOverlap": false, "labelFont": "DejaVu Sans Mono", "labelFontSize": 11, "labelColor": "#000000", "labelPadding": 1, "tickColor": "#e28080", "tickSize": 3, "domain": true, "domainColor": "#2c2c2c", "title": "From 2016/08/08 14:01:18 To 2016/08/09 14:01:18", "titleFont": "DejaVu Sans Mono", "titleFontSize": 15, "titleFontWeight": "normal", "titleColor": "#000000", "titlePadding": 5, "zindex": 1}},
            "y": {"field": "v", "type": "quantitative",
              "axis": {"orient": "left", "values": [0, 0.2, 0.4, 0.6, 0.8, 1.0, 1.2], "grid": true, "gridColor": "#e28080", "gridOpacity": 0.8, "gridDash": [1, 2], "labelExpr": "datum.value == 0 ? '0.0\u00a0\u00a0' : format(datum.value, '.1f') + ' G'", "labelFont": "DejaVu Sans Mono", "labelFontSize": 11, "labelColor": "#000000", "labelPadding": 4, "tickColor": "#2c2c2c", "tickSize": 3, "domain": true, "domainColor": "#2c2c2c", "title": "bits per second", "titleFont": "DejaVu Sans Mono", "titleFontSize": 11, "titleFontWeight": "normal", "titleColor": "#000000", "titlePadding": 14, "zindex": 1}},
            "color": {"datum": "Total Outbound"}
          }
        },
        {
          "data": {"values": [{}]},
          "mark": {"type": "point", "shape": "triangle-up", "filled": true, "size": 40, "color": "#a01818", "opacity": 1},
          "encoding": {
            "x": {"datum": 1470664878000, "type": "temporal", "axis": null},
            "y": {"datum": 1.345, "type": "quantitative", "axis": null}
          }
        },
        {
          "data": {"values": [{}]},
          "mark": {"type": "point", "shape": "triangle-right", "filled": true, "size": 40, "color": "#a01818", "opacity": 1},
          "encoding": {
            "x": {"datum": 1470752500000, "type": "temporal", "axis": null},
            "y": {"datum": 0, "type": "quantitative", "axis": null}
          }
        }
      ]
    },
    {
      "width": 571,
      "height": 140,
      "title": {"text": "DOZE_BW_[Only Internet]"},
      "resolve": {"axis": {"x": "independent", "y": "independent"}},
      "layer": [
        {
          "data": {"name": "doze_in"},
          "mark": {"type": "area", "opacity": 1},
          "encoding": {
            "x": {"field": "t", "type": "temporal",
              "scale": {"type": "utc", "domain": [1470664878000, 1470751278000]},
              "axis": {"orient": "bottom", "values": [1470666600000,1470668400000,1470670200000,1470672000000,1470673800000,1470675600000,1470677400000,1470679200000,1470681000000,1470682800000,1470684600000,1470686400000,1470688200000,1470690000000,1470691800000,1470693600000,1470695400000,1470697200000,1470699000000,1470700800000,1470702600000,1470704400000,1470706200000,1470708000000,1470709800000,1470711600000,1470713400000,1470715200000,1470717000000,1470718800000,1470720600000,1470722400000,1470724200000,1470726000000,1470727800000,1470729600000,1470731400000,1470733200000,1470735000000,1470736800000,1470738600000,1470740400000,1470742200000,1470744000000,1470745800000,1470747600000,1470749400000,1470751200000], "grid": true, "gridColor": "#8f8f8f", "gridOpacity": 0.5, "gridDash": [1, 2], "labels": false, "ticks": true, "tickColor": "#b0b0b0", "tickSize": 2, "domain": false, "title": null, "zindex": 1}},
            "y": {"field": "v", "type": "quantitative",
              "scale": {"domain": [0, 1.1], "nice": false, "zero": true},
              "axis": {"orient": "right", "values": [0.1, 0.2, 0.3, 0.4, 0.5, 0.6, 0.7, 0.8, 0.9, 1.0, 1.1], "grid": true, "gridColor": "#8f8f8f", "gridOpacity": 0.5, "gridDash": [1, 2], "labels": false, "ticks": true, "tickColor": "#e8a0a0", "tickSize": 2, "domain": false, "title": "RRDTOOL / TOBI OETIKER", "titleColor": "#c4c4c4", "titleFont": "DejaVu Sans Mono", "titleFontSize": 9, "titleFontWeight": "normal", "titleAngle": 90, "titleX": 19, "titleY": 0, "titleAlign": "left", "titleBaseline": "middle", "zindex": 1}},
            "color": {"datum": "Total Inbound",
              "scale": {"domain": ["Total Inbound", "Total Outbound"], "range": ["#00CF00", "#002A97"]},
              "legend": {"orient": "none", "legendX": -56, "legendY": 194, "direction": "vertical", "title": null, "symbolType": "square", "symbolSize": 90, "symbolStrokeColor": "#000000", "symbolStrokeWidth": 1, "symbolOpacity": 1, "labelFont": "DejaVu Sans Mono", "labelFontSize": 13, "labelColor": "#000000", "labelLimit": 0, "labelOffset": 5, "rowPadding": 1.5, "padding": 0,
                "labelExpr": "datum.label == 'Total Inbound' ? 'Total Inbound\u00a0\u00a0\u00a0\u00a0Current:\u00a0\u00a0\u00a0\u00a01.05 G\u00a0\u00a0\u00a0Average:\u00a0\u00a0640.63 M\u00a0\u00a0\u00a0Maximum:\u00a0\u00a0\u00a0\u00a01.08 G' : 'Total Outbound\u00a0\u00a0\u00a0Current:\u00a0\u00a0309.73 M\u00a0\u00a0\u00a0Average:\u00a0\u00a0229.73 M\u00a0\u00a0\u00a0Maximum:\u00a0\u00a0357.61 M'"}}
          }
        },
        {
          "data": {"name": "doze_out"},
          "mark": {"type": "line", "strokeWidth": 1.2},
          "encoding": {
            "x": {"field": "t", "type": "temporal",
              "axis": {"orient": "bottom", "values": [1470672000000,1470679200000,1470686400000,1470693600000,1470700800000,1470708000000,1470715200000,1470722400000,1470729600000,1470736800000,1470744000000,1470751200000], "grid": true, "gridColor": "#e28080", "gridOpacity": 0.8, "gridDash": [1, 2], "labelExpr": "utchours(datum.value) % 6 == 0 ? utcFormat(datum.value, '%a %H:%M') : ''", "labelOverlap": false, "labelFont": "DejaVu Sans Mono", "labelFontSize": 11, "labelColor": "#000000", "labelPadding": 1, "tickColor": "#e28080", "tickSize": 3, "domain": true, "domainColor": "#2c2c2c", "title": "From 2016/08/08 14:01:18 To 2016/08/09 14:01:18", "titleFont": "DejaVu Sans Mono", "titleFontSize": 15, "titleFontWeight": "normal", "titleColor": "#000000", "titlePadding": 5, "zindex": 1}},
            "y": {"field": "v", "type": "quantitative",
              "axis": {"orient": "left", "values": [0, 0.2, 0.4, 0.6, 0.8, 1.0], "grid": true, "gridColor": "#e28080", "gridOpacity": 0.8, "gridDash": [1, 2], "labelExpr": "datum.value == 0 ? '0.0\u00a0\u00a0' : format(datum.value, '.1f') + ' G'", "labelFont": "DejaVu Sans Mono", "labelFontSize": 11, "labelColor": "#000000", "labelPadding": 4, "tickColor": "#2c2c2c", "tickSize": 3, "domain": true, "domainColor": "#2c2c2c", "title": "bits per second", "titleFont": "DejaVu Sans Mono", "titleFontSize": 11, "titleFontWeight": "normal", "titleColor": "#000000", "titlePadding": 14, "zindex": 1}},
            "color": {"datum": "Total Outbound"}
          }
        },
        {
          "data": {"values": [{}]},
          "mark": {"type": "point", "shape": "triangle-up", "filled": true, "size": 40, "color": "#a01818", "opacity": 1},
          "encoding": {
            "x": {"datum": 1470664878000, "type": "temporal", "axis": null},
            "y": {"datum": 1.14, "type": "quantitative", "axis": null}
          }
        },
        {
          "data": {"values": [{}]},
          "mark": {"type": "point", "shape": "triangle-right", "filled": true, "size": 40, "color": "#a01818", "opacity": 1},
          "encoding": {
            "x": {"datum": 1470752500000, "type": "temporal", "axis": null},
            "y": {"datum": 0, "type": "quantitative", "axis": null}
          }
        }
      ]
    }
  ]
}
